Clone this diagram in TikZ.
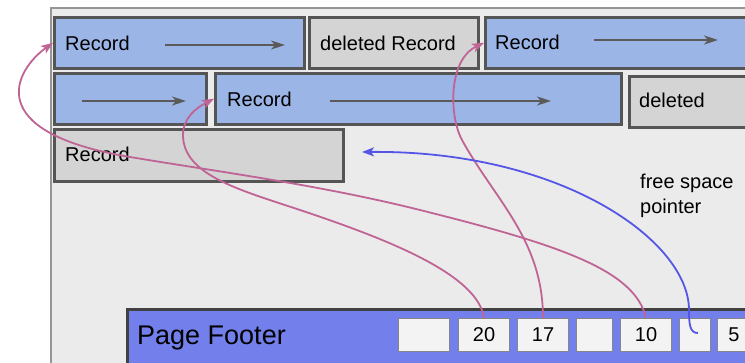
\documentclass[tikz,border=0pt]{standalone}
\usepackage{fontspec}
\setmainfont{Liberation Sans}
\usetikzlibrary{arrows.meta}
\definecolor{pagebg}{RGB}{235,235,235}
\definecolor{pageline}{RGB}{150,150,150}
\definecolor{recblue}{RGB}{155,181,230}
\definecolor{delgray}{RGB}{212,212,212}
\definecolor{boxline}{RGB}{85,85,85}
\definecolor{arrgray}{RGB}{90,90,90}
\definecolor{footblue}{RGB}{115,128,235}
\definecolor{footline}{RGB}{65,65,65}
\definecolor{slotfill}{RGB}{243,243,243}
\definecolor{slotline}{RGB}{135,135,135}
\definecolor{ptrpink}{RGB}{192,100,150}
\definecolor{ptrblue}{RGB}{85,85,230}
\begin{document}
\begin{tikzpicture}[x=1pt,y=-1pt,
  rec/.style={draw=boxline, line width=2.5pt, fill=recblue, anchor=north west, inner sep=0pt},
  del/.style={draw=boxline, line width=2.5pt, fill=delgray, anchor=north west, inner sep=0pt},
  lbl/.style={anchor=base west, inner sep=0pt, font=\fontsize{20}{24}\selectfont},
  inarr/.style={draw=arrgray, line width=1.8pt, -{Stealth[length=14pt,width=9pt,inset=4pt]}},
  ptr/.style={draw=ptrpink, line width=1.8pt, -{Stealth[length=12pt,width=9pt,inset=3pt]}},
  bptr/.style={draw=ptrblue, line width=1.8pt, -{Stealth[length=12pt,width=9pt,inset=3pt]}},
  slot/.style={draw=slotline, line width=1pt, fill=slotfill, anchor=north west, inner sep=0pt,
    minimum height=33pt, font=\fontsize{20}{24}\selectfont}]
\useasboundingbox (0,0) rectangle (745,362);
\clip (0,0) rectangle (745,362);
\fill[white] (0,0) rectangle (745,362);
% page
\node[draw=pageline, line width=1.5pt, fill=pagebg, anchor=north west, inner sep=0pt,
  minimum width=760pt, minimum height=400pt] (page) at (50,7) {};
% records, row 1
\node[rec, minimum width=250pt, minimum height=51pt] (r1a) at (53,16) {};
\node[del, minimum width=169pt, minimum height=51pt] (r1b) at (308,16) {};
\node[rec, minimum width=300pt, minimum height=51pt] (r1c) at (484,16) {};
% row 2
\node[rec, minimum width=152pt, minimum height=51pt] (r2a) at (53,72) {};
\node[rec, minimum width=406pt, minimum height=51pt] (r2b) at (214,72) {};
\node[del, minimum width=150pt, minimum height=51pt] (r2c) at (628,75) {};
% row 3
\node[del, minimum width=289pt, minimum height=52pt] (r3) at (53,128) {};
% labels
\node[lbl] (t1a) at (65,50) {Record};
\node[lbl] (t1b) at (320,50) {deleted Record};
\node[lbl] (t1c) at (495,49.5) {Record};
\node[lbl] (t2b) at (227,106) {Record};
\node[lbl] (t2c) at (639,107.5) {deleted};
\node[lbl] (t3) at (65,161) {Record};
\node[anchor=base west, inner sep=0pt, align=left, font=\fontsize{20}{25}\selectfont] (fsl) at (640,213) {free space\\pointer};
% inner arrows
\coordinate (a1s) at (165,45); \coordinate (a1e) at (285,45);
\coordinate (a2s) at (594,40); \coordinate (a2e) at (718,40);
\coordinate (a3s) at (82,101); \coordinate (a3e) at (186,101);
\coordinate (a4s) at (330,101); \coordinate (a4e) at (551,101);
\draw[inarr] (a1s) -- (a1e);
\draw[inarr] (a2s) -- (a2e);
\draw[inarr] (a3s) -- (a3e);
\draw[inarr] (a4s) -- (a4e);
% footer
\node[draw=footline, line width=2.5pt, fill=footblue, anchor=north west, inner sep=0pt,
  minimum width=700pt, minimum height=90pt] (foot) at (126,308) {};
\node[anchor=base west, inner sep=0pt, font=\fontsize{27}{32}\selectfont] (ftxt) at (137,344) {Page Footer};
\node[slot, minimum width=51pt] (s1) at (398,318) {};
\node[slot, minimum width=51pt] (s20) at (458,318) {20};
\node[slot, minimum width=51pt] (s17) at (517,318) {17};
\node[slot, minimum width=36pt] (s4) at (576,318) {};
\node[slot, minimum width=51pt] (s10) at (620,318) {10};
\node[slot, minimum width=31pt] (sfree) at (679,318) {};
\node[slot, minimum width=33pt] (s5) at (717,318) {5};
% pointers
\coordinate (fsp) at (362,152);
\coordinate (fstart) at (698,333);
\draw[ptr] (s20.north) .. controls (478,275) and (390,240) .. (300,210)
  .. controls (240,190) and (183,175) .. (183,135)
  .. controls (183,118) and (196,108) .. (r2b.west);
\draw[ptr] (s10.north) .. controls (635,270) and (560,245) .. (420,210)
  .. controls (320,185) and (220,172) .. (130,157)
  .. controls (-20,132) and (15,70) .. (r1a.west);
\draw[ptr] (s17.north) .. controls (543,240) and (495,200) .. (462,140)
  .. controls (449,116) and (448,60) .. (r1c.west);
\draw[bptr] (fstart) .. controls (690,333) and (689,325) .. (689,310)
  .. controls (689,240) and (560,150) .. (fsp);
\end{tikzpicture}
\end{document}
